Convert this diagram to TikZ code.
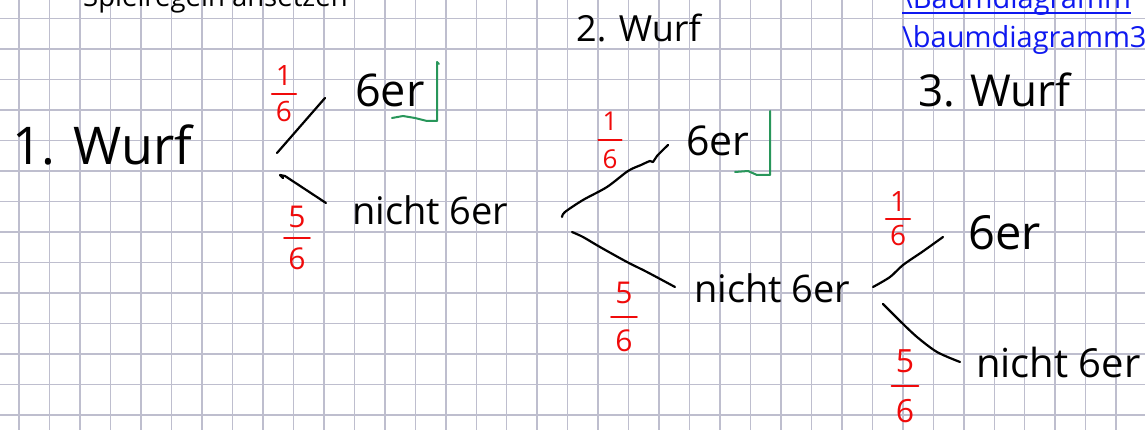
\documentclass[tikz,border=0pt]{standalone}
\usepackage{fontspec}
\setmainfont{Open Sans}
\definecolor{gridcol}{RGB}{190,190,206}
\definecolor{fracred}{RGB}{240,10,10}
\definecolor{tickgreen}{RGB}{40,150,90}
\definecolor{linkblue}{RGB}{15,25,240}
\begin{document}
\begin{tikzpicture}[x=1pt,y=-1pt,
  gridline/.style={draw=gridcol, line width=1.5pt},
  hand/.style={draw=black, line width=2.2pt, line cap=round, line join=round},
  tickmark/.style={draw=tickgreen, line width=2pt, line cap=round, line join=round},
  word/.style={anchor=base west, inner sep=0pt, text=black},
  frac/.style 2 args={text=fracred, align=center, inner sep=4pt, font=\fontsize{#1}{#2}\selectfont},
  fracbar/.style={draw=fracred, line width=2pt, line cap=round},
  printed/.style={anchor=base west, inner sep=0pt, font=\fontsize{29}{33}\selectfont}]

\useasboundingbox (0,0) rectangle (1145,430);
\clip (0,0) rectangle (1145,430);
\fill[white] (0,0) rectangle (1145,430);

% squared paper
\foreach \i in {0,...,36}
  \draw[gridline] ({19.2+\i*30.47},0) -- ({19.2+\i*30.47},430);
\foreach \j in {0,...,13}
  \draw[gridline] (0,{18.3+\j*30.5}) -- (1145,{18.3+\j*30.5});

% printed lines at the top
\node[printed, font=\fontsize{27.5}{31}\selectfont] (title) at (83,7) {Spielregeln ansetzen};
\node[printed, text=linkblue] (link1) at (902,9) {\textbackslash Baumdiagramm};
\draw[linkblue, line width=1.5pt] ([yshift=-4pt]link1.base west) -- ([yshift=-4pt]link1.base east);
\node[printed, text=linkblue] (link2) at (902,48) {\textbackslash baumdiagramm3};

% column headings
\node[word, font=\fontsize{52}{56}\selectfont] (w1) at (12,165) {1. Wurf};
\node[word, font=\fontsize{36}{40}\selectfont] (w2) at (576,42) {2. Wurf};
\node[word, font=\fontsize{44}{48}\selectfont] (w3) at (918,107) {3. Wurf};

% outcomes
\node[word, font=\fontsize{45}{50}\selectfont] (a6) at (355,107) {6er};
\node[word, font=\fontsize{38}{42}\selectfont] (an) at (352,225) {nicht 6er};
\node[word, font=\fontsize{41}{46}\selectfont] (b6) at (686,156) {6er};
\node[word, font=\fontsize{38}{42}\selectfont] (bn) at (694,302) {nicht 6er};
\node[word, font=\fontsize{47}{52}\selectfont] (c6) at (968,250) {6er};
\node[word, font=\fontsize{40}{44}\selectfont] (cn) at (976,377) {nicht 6er};

% branch probabilities
\node[frac={28}{36}] (fa1) at (284,94) {1\\6};
\draw[fracbar] (fa1.west) -- (fa1.east);
\node[frac={30}{42}] (fa5) at (297,238) {5\\6};
\draw[fracbar] (fa5.west) -- (fa5.east);
\node[frac={26}{38}] (fb1) at (610,140) {1\\6};
\draw[fracbar] (fb1.west) -- (fb1.east);
\node[frac={30}{48}] (fb5) at (624,317) {5\\6};
\draw[fracbar] (fb5.west) -- (fb5.east);
\node[frac={28}{34}] (fc1) at (898,219) {1\\6};
\draw[fracbar] (fc1.west) -- (fc1.east);
\node[frac={32}{50}] (fc5) at (905,386) {5\\6};
\draw[fracbar] (fc5.west) -- (fc5.east);

% branches of the first throw
\coordinate (a-up-s) at (277,153);
\coordinate (a-up-e) at (325,98);
\coordinate (a-lo-s) at (280,175);
\coordinate (a-lo-e) at (326,203);
\draw[hand] (a-up-s) -- (a-up-e);
\draw[hand] ([shift={(3,3)}]a-lo-s) -- (a-lo-s) -- ([shift={(5,1)}]a-lo-s) -- (a-lo-e);

% branches of the second throw
\coordinate (b-up-s) at (562,217);
\coordinate (b-up-e) at (668,145);
\coordinate (b-lo-s) at (572,232);
\coordinate (b-lo-e) at (675,287);
\draw[hand] plot[smooth, tension=0.5] coordinates {(b-up-s) (565,212) (583,200) (607,187) (628,171) (641,165) (650,161) (653,162) (657,156) (b-up-e)};
\draw[hand] plot[smooth, tension=0.5] coordinates {(b-lo-s) (583,237) (600,247) (627,262) (647,272) (b-lo-e)};

% branches of the third throw
\coordinate (c-up-s) at (873,287);
\coordinate (c-up-e) at (943,237);
\coordinate (c-lo-s) at (883,304);
\coordinate (c-lo-e) at (960,362);
\draw[hand] plot[smooth, tension=0.5] coordinates {(c-up-s) (890,277) (903,265) (922,252) (c-up-e)};
\draw[hand] plot[smooth, tension=0.5] coordinates {(c-lo-s) (900,321) (917,337) (937,352) (c-lo-e)};

% green ticks beside the hits
\draw[tickmark] (392,118) -- (403,116) -- (415,118) -- (427,121) -- (437,121) -- (437,62) -- (439,64);
\draw[tickmark] (735,172) -- (748,171) -- (757,175) -- (770,175) -- (770,111);
\end{tikzpicture}
\end{document}
